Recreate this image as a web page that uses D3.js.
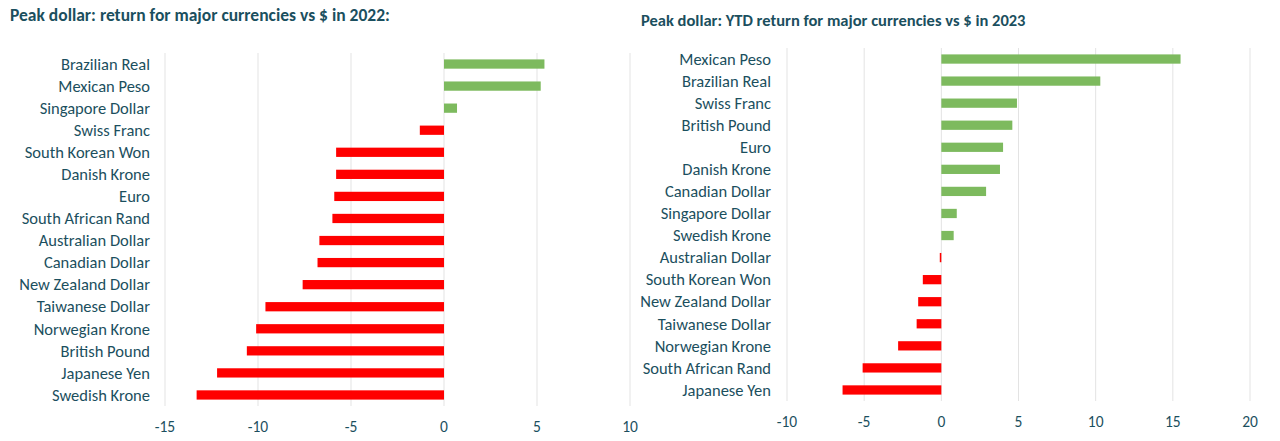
<!DOCTYPE html>
<html><head><meta charset="utf-8">
<script src="https://cdn.jsdelivr.net/npm/d3@7"></script>
<style>body{margin:0;background:#fff;font-family:Calibri,Carlito,"Liberation Sans",sans-serif;}</style>
</head><body>
<script>
// 2022 data
const names2022 = ["Brazilian Real","Mexican Peso","Singapore Dollar","Swiss Franc","South Korean Won","Danish Krone","Euro","South African Rand","Australian Dollar","Canadian Dollar","New Zealand Dollar","Taiwanese Dollar","Norwegian Krone","British Pound","Japanese Yen","Swedish Krone"];
const values2022 = [5.4,5.2,0.7,-1.3,-5.8,-5.8,-5.9,-6.0,-6.7,-6.8,-7.6,-9.6,-10.1,-10.6,-12.2,-13.3];
const ticks2022 = [-15,-10,-5,0,5,10];
// 2023 data
const names2023 = ["Mexican Peso","Brazilian Real","Swiss Franc","British Pound","Euro","Danish Krone","Canadian Dollar","Singapore Dollar","Swedish Krone","Australian Dollar","South Korean Won","New Zealand Dollar","Taiwanese Dollar","Norwegian Krone","South African Rand","Japanese Yen"];
const values2023 = [15.5,10.3,4.9,4.6,4.0,3.8,2.9,1.0,0.8,-0.1,-1.2,-1.5,-1.6,-2.8,-5.1,-6.4];
const ticks2023 = [-10,-5,0,5,10,15,20];

const teal = "#1b4f5e", green = "#7dba5e", red = "#ff0000";
const svg = d3.select("body").append("svg").attr("width",1280).attr("height",441);

function chart(o) {
  const x = d3.scaleLinear().domain(o.domain).range([o.x0, o.x1]);
  const y = d3.scaleBand().domain(o.names).range([o.y0, o.y1]).paddingInner(0.58).paddingOuter(0.29);
  const g = svg.append("g");
  g.append("text").attr("x", o.tx).attr("y", o.ty).attr("fill", teal)
    .attr("font-weight","bold").attr("font-size",o.ts).text(o.title);
  g.selectAll(".grid").data(o.ticks).join("line")
    .attr("x1", d=>x(d)).attr("x2", d=>x(d)).attr("y1", o.y0).attr("y2", o.y1)
    .attr("stroke", "#e3e3e3");
  g.selectAll(".bar").data(o.values).join("rect")
    .attr("x", d=>x(Math.min(0,d))).attr("width", d=>Math.max(1, Math.abs(x(d)-x(0))))
    .attr("y", (d,i)=>y(o.names[i])).attr("height", y.bandwidth())
    .attr("fill", d=>d>=0?green:red);
  g.selectAll(".lab").data(o.names).join("text")
    .attr("x", o.lx).attr("y", d=>y(d)+y.bandwidth()/2).attr("dy","0.35em")
    .attr("text-anchor","end").attr("fill", teal).attr("font-size",16.5).text(d=>d);
  g.selectAll(".tick").data(o.ticks).join("text")
    .attr("x", d=>x(d)).attr("y", o.y1+26).attr("text-anchor","middle")
    .attr("fill", teal).attr("font-size",15.5).text(d=>d);
}

chart({names:names2022, values:values2022, ticks:ticks2022, domain:[-15,10],
  x0:165, x1:630, y0:53, y1:406, lx:150, tx:10, ty:21, ts:17.5,
  title:"Peak dollar: return for major currencies vs $ in 2022:"});
chart({names:names2023, values:values2023, ticks:ticks2023, domain:[-10,20],
  x0:787, x1:1250, y0:48, y1:401, lx:771, tx:641, ty:26, ts:16.5,
  title:"Peak dollar: YTD return for major currencies vs $ in 2023"});
</script>
</body></html>
